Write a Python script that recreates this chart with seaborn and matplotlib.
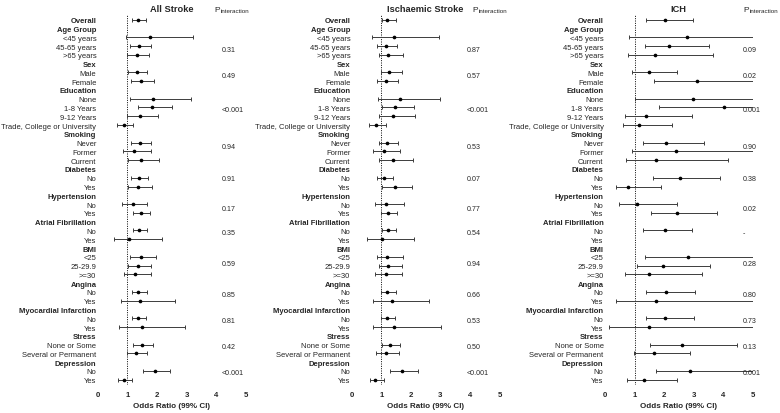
import numpy as np
import pandas as pd
import seaborn as sns
import matplotlib.pyplot as plt

nan = np.nan

# row labels, top to bottom
row_labels = ['Overall', 'Age Group', '<45 years', '45-65 years', '>65 years',
              'Sex', 'Male', 'Female',
              'Education', 'None', '1-8 Years', '9-12 Years', 'Trade, College or University',
              'Smoking', 'Never', 'Former', 'Current',
              'Diabetes', 'No', 'Yes',
              'Hypertension', 'No', 'Yes',
              'Atrial Fibrillation', 'No', 'Yes',
              'BMI', '<25', '25-29.9', '>=30',
              'Angina', 'No', 'Yes',
              'Myocardial Infarction', 'No', 'Yes',
              'Stress', 'None or Some', 'Several or Permanent',
              'Depression', 'No', 'Yes']
bold_rows = [0, 1, 5, 8, 13, 17, 20, 23, 26, 30, 33, 36, 39]

# All Stroke
all_or = [1.37, nan, 1.75, 1.39, 1.31, nan, 1.33, 1.46, nan, 1.87, 1.85, 1.42, 0.89,
          nan, 1.43, 1.24, 1.45, nan, 1.39, 1.36, nan, 1.18, 1.46, nan, 1.40, 1.06,
          nan, 1.46, 1.37, 1.26, nan, 1.37, 1.44, nan, 1.36, 1.48, nan, 1.49, 1.28,
          nan, 1.93, 0.90]
all_lo = [1.16, nan, 0.95, 1.10, 0.99, nan, 1.02, 1.11, nan, 1.10, 1.35, 0.99, 0.65,
          nan, 1.11, 0.84, 1.01, nan, 1.11, 1.01, nan, 0.82, 1.19, nan, 1.18, 0.55,
          nan, 1.08, 1.01, 0.90, nan, 1.15, 0.78, nan, 1.15, 0.73, nan, 1.18, 0.99,
          nan, 1.52, 0.69]
all_hi = [1.63, nan, 3.21, 1.79, 1.73, nan, 1.67, 1.89, nan, 3.15, 2.52, 2.04, 1.20,
          nan, 1.80, 1.80, 2.06, nan, 1.71, 1.85, nan, 1.68, 1.78, nan, 1.67, 2.17,
          nan, 1.98, 1.81, 1.80, nan, 1.66, 2.62, nan, 1.64, 2.96, nan, 1.86, 1.68,
          nan, 2.45, 1.16]
all_p = ['0.31', '0.49', '<0.001', '0.94', '0.91', '0.17', '0.35', '0.59', '0.85', '0.81', '0.42', '<0.001']

# Ischaemic Stroke
isc_or = [1.21, nan, 1.43, 1.16, 1.24, nan, 1.27, 1.17, nan, 1.62, 1.47, 1.40, 0.81,
          nan, 1.20, 1.09, 1.40, nan, 1.09, 1.46, nan, 1.17, 1.22, nan, 1.22, 1.02,
          nan, 1.20, 1.22, 1.17, nan, 1.19, 1.36, nan, 1.19, 1.43, nan, 1.28, 1.15,
          nan, 1.71, 0.80]
isc_lo = [1.01, nan, 0.70, 0.87, 0.92, nan, 0.98, 0.87, nan, 0.89, 1.03, 0.93, 0.57,
          nan, 0.91, 0.71, 0.94, nan, 0.87, 1.04, nan, 0.78, 0.98, nan, 1.01, 0.51,
          nan, 0.85, 0.91, 0.80, nan, 0.99, 0.72, nan, 0.99, 0.72, nan, 1.01, 0.83,
          nan, 1.29, 0.61]
isc_hi = [1.49, nan, 2.94, 1.54, 1.72, nan, 1.69, 1.58, nan, 3.00, 2.10, 2.13, 1.17,
          nan, 1.58, 1.62, 2.06, nan, 1.40, 2.03, nan, 1.78, 1.54, nan, 1.51, 2.10,
          nan, 1.72, 1.69, 1.69, nan, 1.49, 2.62, nan, 1.47, 3.02, nan, 1.64, 1.60,
          nan, 2.25, 1.09]
isc_p = ['0.87', '0.57', '<0.001', '0.53', '0.07', '0.77', '0.54', '0.94', '0.66', '0.53', '0.50', '<0.001']

# ICH (upper limits past 5 run off the axis)
ich_or = [2.03, nan, 2.78, 2.18, 1.70, nan, 1.48, 3.10, nan, 2.98, 4.02, 1.40, 1.16,
          nan, 2.08, 2.40, 1.72, nan, 2.54, 0.79, nan, 1.10, 2.43, nan, 2.02, nan,
          nan, 2.82, 1.96, 1.49, nan, 2.06, 1.73, nan, 2.04, 1.49, nan, 2.61, 1.66,
          nan, 2.88, 1.33]
ich_lo = [1.39, nan, 0.82, 1.36, 0.78, nan, 0.90, 1.67, nan, 1.01, 1.83, 0.67, 0.60,
          nan, 1.30, 0.92, 0.72, nan, 1.64, 0.36, nan, 0.49, 1.57, nan, 1.30, nan,
          nan, 1.37, 1.09, 0.69, nan, 1.39, 0.36, nan, 1.39, 0.15, nan, 1.53, 0.98,
          nan, 1.73, 0.74]
ich_hi = [2.98, nan, 6.5, 3.52, 3.66, nan, 2.43, 6.5, nan, 6.5, 6.5, 2.96, 2.28,
          nan, 3.35, 6.5, 4.17, nan, 3.91, 1.91, nan, 2.44, 3.80, nan, 2.96, nan,
          nan, 6.5, 3.55, 3.28, nan, 3.04, 6.5, nan, 3.00, 6.5, nan, 4.48, 2.89,
          nan, 6.5, 2.43]
ich_p = ['0.09', '0.02', '0.001', '0.90', '0.38', '0.02', '-', '0.28', '0.80', '0.73', '0.13', '0.001']

# where each p value sits (row units)
p_rows = [3.45, 6.38, 10.2, 14.45, 18.14, 21.45, 24.26, 27.75, 31.35, 34.2, 37.2, 40.2]


def forest(ax, title, est, lo, hi, pvals, p_x, head_x):
    df = pd.DataFrame({'row': np.arange(len(row_labels)), 'or': est, 'lo': lo, 'hi': hi}).dropna()

    ax.axvline(1, color='black', ls=(0, (1, 1.4)), lw=0.7, zorder=1)
    ax.errorbar(df['or'], df['row'], xerr=[df['or'] - df['lo'], df['hi'] - df['or']],
                fmt='none', ecolor='#3c3c3c', elinewidth=0.7, capsize=1.3, capthick=0.7, zorder=2)
    sns.scatterplot(data=df, x='or', y='row', color='black', s=7, linewidth=0, ax=ax, zorder=3)

    ax.set_xlim(0, 5)
    ax.set_ylim(41.6, -0.6)
    ax.set_yticks(range(len(row_labels)))
    ax.set_yticklabels(row_labels, fontsize=5.5)
    for i in bold_rows:
        ax.get_yticklabels()[i].set_fontweight('bold')
    ax.set_xticks(range(6))
    ax.set_xticklabels([str(v) for v in range(6)], fontsize=5.6, fontweight='bold')
    ax.tick_params(axis='y', length=0, pad=1)
    ax.tick_params(axis='x', length=0, pad=4)
    ax.set_ylabel('')
    ax.set_xlabel('Odds Ratio (99% CI)', fontsize=5.8, fontweight='bold', labelpad=3)
    ax.set_title(title, fontsize=6.7, fontweight='bold', pad=2.5)
    sns.despine(ax=ax, left=True, bottom=True)

    for txt, r in zip(pvals, p_rows):
        ax.text(p_x, r, txt, fontsize=5.1, va='center', ha='left')
    ax.text(head_x, -1.15, 'P', fontsize=6, va='center', ha='left')
    ax.annotate('interaction', xy=(head_x, -1.15), xytext=(4.6, -0.6), textcoords='offset points',
                fontsize=4.5, va='center', ha='left', annotation_clip=False)


sns.set_theme(style='white')
plt.rcParams['font.family'] = ['Liberation Sans', 'DejaVu Sans']

fig = plt.figure(figsize=(7.8, 4.14), dpi=100)
ax1 = fig.add_axes([0.1253, 0.0676, 0.1897, 0.8952])
ax2 = fig.add_axes([0.4509, 0.0676, 0.1895, 0.8952])
ax3 = fig.add_axes([0.7756, 0.0676, 0.1894, 0.8952])

forest(ax1, 'All Stroke', all_or, all_lo, all_hi, all_p, 4.2, 3.93)
forest(ax2, 'Ischaemic Stroke', isc_or, isc_lo, isc_hi, isc_p, 3.9, 4.08)
forest(ax3, 'ICH', ich_or, ich_lo, ich_hi, ich_p, 4.67, 4.67)

fig.savefig('out.png', dpi=100)
